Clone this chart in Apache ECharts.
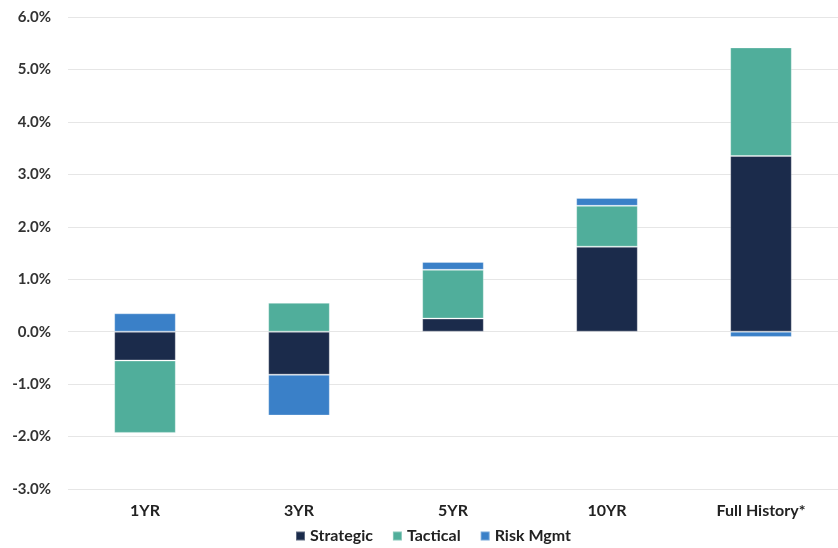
<!DOCTYPE html>
<html><head><meta charset="utf-8">
<script src="https://cdn.jsdelivr.net/npm/echarts@6/dist/echarts.min.js"></script>
<style>html,body{margin:0;padding:0;background:#fff}#c{width:838px;height:548px}</style>
</head><body><div id="c"></div>
<script>
const categories = ['1YR', '3YR', '5YR', '10YR', 'Full History*'];
const strategic = [-0.55, -0.82, 0.25, 1.62, 3.35];
const tactical = [-1.38, 0.55, 0.93, 0.78, 2.07];
const riskMgmt = [0.35, -0.78, 0.15, 0.15, -0.10];
const yTicks = { min: -3, max: 6, interval: 1 };

const font = 'Lato, "Noto Sans", sans-serif';
const mk = (name, data, color) => ({
  name, type: 'bar', stack: 'total', data, barWidth: '40%',
  itemStyle: { color, borderColor: 'rgba(255,255,255,0.3)', borderWidth: 1 }
});
const chart = echarts.init(document.getElementById('c'));
chart.setOption({
  animation: false,
  grid: { left: 68, right: 0, top: 17, bottom: 59 },
  legend: {
    bottom: -1, left: 290, itemWidth: 9, itemHeight: 9, itemGap: 19,
    icon: 'rect',
    textStyle: { fontFamily: font, fontWeight: 'bold', fontSize: 16, color: '#222' },
    data: ['Strategic', 'Tactical', 'Risk Mgmt']
  },
  xAxis: {
    type: 'category', data: categories,
    axisLine: { show: false }, axisTick: { show: false },
    axisLabel: { fontFamily: font, fontWeight: 'bold', fontSize: 16, color: '#222', margin: 14 }
  },
  yAxis: {
    type: 'value', min: yTicks.min, max: yTicks.max, interval: yTicks.interval,
    axisLabel: { fontFamily: font, fontWeight: 'bold', fontSize: 15, color: '#333', margin: 17,
      formatter: v => v.toFixed(1) + '%' },
    splitLine: { lineStyle: { color: '#e6e6e6', width: 1 } },
    axisLine: { show: false }, axisTick: { show: false }
  },
  series: [
    mk('Strategic', strategic, '#1b2b4b'),
    mk('Tactical', tactical, '#50ae9b'),
    mk('Risk Mgmt', riskMgmt, '#3a80c8')
  ]
});
</script></body></html>
